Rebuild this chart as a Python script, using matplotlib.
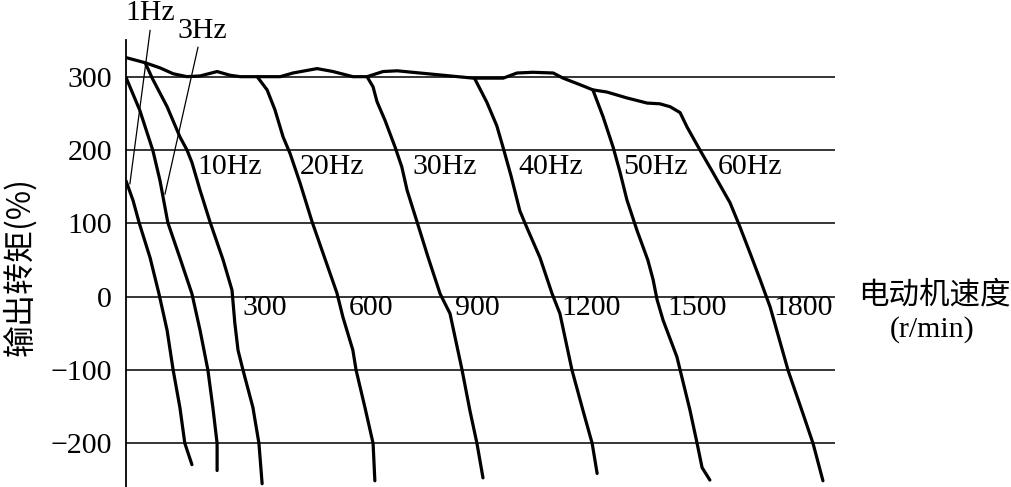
import matplotlib.pyplot as plt

# torque limit curve (also the 60Hz curve)
env_rpm = [0, 54, 96, 133, 172, 209, 257, 293, 322, 435, 471, 539, 584, 640, 680, 725, 765,
           829, 979, 1064, 1103, 1148, 1205, 1233, 1281, 1317, 1357, 1413, 1470, 1506, 1535,
           1563, 1583, 1619, 1656, 1704, 1732, 1760, 1789, 1817, 1868, 1910, 1938, 1966]
env_tq = [326, 319, 312, 304, 300, 301, 307, 302, 300, 300, 305, 311, 307, 300, 300, 307, 308,
          305, 298, 298, 305, 306, 305, 298, 289, 282, 279, 271, 264, 263, 259,
          251, 231, 200, 169, 128, 95, 60, 23, -14, -101, -160, -200, -251]

f1_rpm = [0, 20, 37, 68, 93, 116, 133, 152, 166, 186]
f1_tq = [158, 131, 101, 53, 4, -46, -100, -151, -200, -229]

f3_rpm = [0, 39, 76, 96, 118, 152, 186, 209, 231, 245, 257, 257]
f3_tq = [299, 254, 199, 158, 101, 53, 4, -46, -100, -151, -200, -237]

f10_rpm = [54, 76, 116, 152, 172, 186, 209, 237, 274, 299, 307, 316, 330, 358, 375, 384]
f10_tq = [319, 296, 259, 218, 200, 183, 145, 102, 50, 9, -36, -73, -100, -151, -200, -255]

f20_rpm = [370, 398, 420, 443, 463, 491, 525, 556, 595, 612, 640, 649, 674, 697, 702]
f20_tq = [300, 282, 255, 218, 195, 155, 102, 59, 5, -28, -73, -100, -151, -200, -251]

f30_rpm = [680, 697, 708, 731, 759, 778, 793, 821, 852, 886, 914, 948, 970, 990, 1007]
f30_tq = [300, 286, 266, 240, 204, 177, 145, 102, 54, 4, -23, -100, -155, -200, -247]

f40_rpm = [984, 1018, 1046, 1064, 1086, 1111, 1131, 1168, 1202, 1224, 1258, 1289, 1315, 1329]
f40_tq = [297, 265, 233, 203, 165, 117, 94, 53, 4, -23, -100, -155, -200, -241]

f50_rpm = [1317, 1346, 1374, 1394, 1413, 1441, 1472, 1487, 1498, 1515, 1554, 1591, 1611, 1625,
           1647]
f50_tq = [282, 245, 204, 169, 132, 91, 50, 23, -4, -32, -82, -155, -200, -233, -250]

curves = [(f1_rpm, f1_tq), (f3_rpm, f3_tq), (f10_rpm, f10_tq), (f20_rpm, f20_tq),
          (f30_rpm, f30_tq), (f40_rpm, f40_tq), (f50_rpm, f50_tq), (env_rpm, env_tq)]

hz_labels = ['10Hz', '20Hz', '30Hz', '40Hz', '50Hz', '60Hz']
hz_label_x = [200, 491, 807, 1106, 1402, 1670]
hz_label_y = 177

speed_ticks = [300, 600, 900, 1200, 1500, 1800]
torque_ticks = [-200, -100, 0, 100, 200, 300]

plt.rcParams['font.family'] = ['Liberation Serif', 'DejaVu Serif']

fig = plt.figure(figsize=(10.12, 4.87), dpi=100)
ax = fig.add_axes([126 / 1012, 0.0, 709 / 1012, 1 - 40 / 487])
ax.set_xlim(0, 2000)
ax.set_ylim(-259.5, 350)

for t in torque_ticks:
    ax.axhline(t, color='black', lw=1.1, zorder=1)

for xs, ys in curves:
    ax.plot(xs, ys, color='black', lw=2.3, solid_capstyle='round', solid_joinstyle='round',
            zorder=3)

for s in ['top', 'right', 'bottom']:
    ax.spines[s].set_visible(False)
ax.spines['left'].set_linewidth(1.3)
ax.set_xticks([])
ax.set_yticks(torque_ticks)
ax.tick_params(axis='y', length=0, pad=10, labelsize=21.5)

for lab, x in zip(hz_labels, hz_label_x):
    ax.text(x, hz_label_y, lab, fontsize=21.5, ha='left', va='center')

for v in speed_ticks:
    ax.annotate(str(v), (v, -16), xytext=(7, 0), textcoords='offset points',
                fontsize=21.5, ha='left', va='center')

# 1Hz / 3Hz labels with leader lines
ax.text(-3, 387, '1Hz', fontsize=21.5, ha='left', va='center', clip_on=False)
ax.text(145, 362, '3Hz', fontsize=21.5, ha='left', va='center', clip_on=False)
ax.plot([68, 11], [363, 154], color='black', lw=0.9, clip_on=False)
ax.plot([203, 110], [340, 140], color='black', lw=0.9, clip_on=False)

ax.text(2065, 3, '电动机速度', fontsize=22, ha='left', va='center',
        family=['Noto Sans CJK SC'], clip_on=False)
ax.text(2275, -45, '(r/min)', fontsize=21.5, ha='center', va='center', clip_on=False)

fig.text(20 / 1012, 1 - 267 / 487, '输出转矩(%)', fontsize=23, rotation=90,
         ha='center', va='center', family=['Noto Sans CJK SC', 'Liberation Serif'])

fig.savefig('out.png', dpi=100)
